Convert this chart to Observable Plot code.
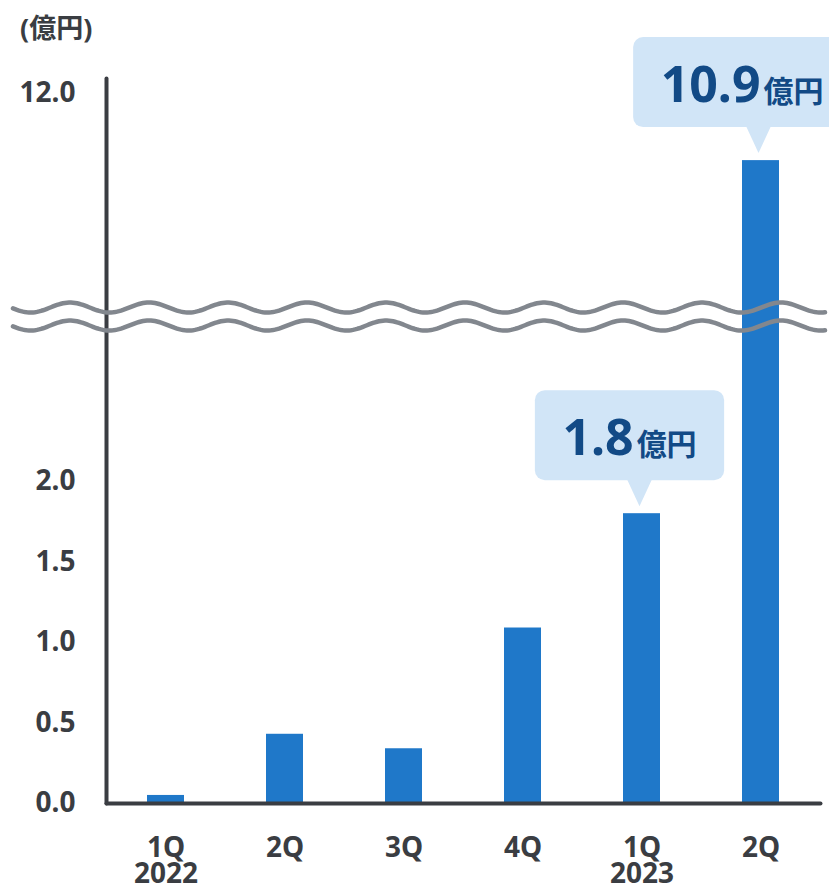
<!DOCTYPE html>
<html><head><meta charset="utf-8">
<script src="https://cdn.jsdelivr.net/npm/d3@7"></script>
<script src="https://cdn.jsdelivr.net/npm/@observablehq/plot@0.6"></script>
<style>
body{margin:0;background:#fff;overflow:hidden}
#chart{position:relative;width:829px;height:887px}
#chart svg{overflow:hidden}
</style>
</head><body><div id="chart"></div>
<script>
// ---- data ----
const categories = ["1Q 2022","2Q 2022","3Q 2022","4Q 2022","1Q 2023","2Q 2023"];
const tickLabels = ["1Q\n2022","2Q","3Q","4Q","1Q\n2023","2Q"];
const values = [0.05, 0.43, 0.34, 1.09, 1.8, 10.9];
const yTicks = [0, 0.5, 1.0, 1.5, 2.0, 12.0];
const yBreak = [3.0, 8.4];          // axis is broken between these values
const calloutCategories = ["1Q 2023","2Q 2023"];
const calloutNumbers = ["1.8","10.9"];
const calloutUnit = "億円";
const axisUnit = "(億円)";

// ---- broken-axis transform (upper segment compressed) ----
const UPPER_RATIO = 0.38, GAP = 0.043;
const brk = v => v <= yBreak[0] ? v
  : v >= yBreak[1] ? yBreak[0] + GAP + (v - yBreak[1]) * UPPER_RATIO
  : yBreak[0] + (v - yBreak[0]) / (yBreak[1] - yBreak[0]) * GAP;

// ---- chart ----
const W = 829, H = 887;
const FONT = '"Noto Sans","Noto Sans CJK JP",sans-serif';
const INK = "#3a3d42";
const data = categories.map((c, i) => ({cat: c, value: values[i]}));
const fmt = d3.format(".1f");
const tickPos = yTicks.map(brk);

const plot = Plot.plot({
  width: W, height: H,
  marginTop: 78, marginBottom: 84, marginLeft: 106, marginRight: 9,
  style: {fontFamily: FONT, color: INK, background: "white", overflow: "hidden"},
  x: {domain: categories, paddingInner: 0.69, paddingOuter: 0.345, label: null},
  y: {transform: brk, domain: [0, 4.503], label: null},
  marks: [
    Plot.barY(data, {x: "cat", y: "value", fill: "#1f78c9"}),
    Plot.frame({anchor: "left", stroke: INK, strokeWidth: 4, strokeLinecap: "round"}),
    Plot.frame({anchor: "bottom", stroke: INK, strokeWidth: 4, strokeLinecap: "round"}),
    Plot.axisY({ticks: tickPos, tickFormat: d => fmt(yTicks[tickPos.indexOf(d)] ?? d),
                tickSize: 0, tickPadding: 31, fontSize: 28, fontWeight: "bold", label: null}),
    Plot.axisX({tickSize: 0, tickPadding: 35, tickFormat: d => tickLabels[categories.indexOf(d)],
                fontSize: 28, fontWeight: "bold", lineHeight: 0.93, label: null})
  ]
});
document.getElementById("chart").appendChild(plot);

const xs = plot.scale("x"), ys = plot.scale("y");
const svg = d3.select(plot);

// axis unit label
svg.append("text").attr("x", 20).attr("y", 38).attr("text-anchor", "start")
  .attr("font-family", FONT).attr("font-size", 27).attr("font-weight", "bold")
  .attr("fill", INK).text(axisUnit);

// broken-axis waves
const yMid = (ys.apply(brk(yBreak[0])) + ys.apply(brk(yBreak[0]) + GAP)) / 2;
const lambda = 79, amp = 5;
[-9, 9].forEach(off => {
  const pts = d3.range(13, 827, 2).map(x => [x, yMid + off - amp * Math.cos(2 * Math.PI * (x - 70) / lambda)]);
  svg.append("path").attr("d", d3.line()(pts)).attr("fill", "none")
    .attr("stroke", "#82878e").attr("stroke-width", 4.5).attr("stroke-linecap", "round");
});

// callouts (positioned from the rendered bars)
const barRects = svg.selectAll('g[aria-label="bar"] rect').nodes();
const BOX = "#d1e5f7", TXT = "#124a86";
calloutCategories.forEach((c, k) => {
  const r = barRects[categories.indexOf(c)];
  const cx = xs.apply(c) + xs.bandwidth / 2 - 2;
  const tipY = +r.getAttribute("y") - 7;
  const baseY = tipY - 26;
  const top = baseY - 90;
  const g = svg.append("g");
  const rect = g.append("rect");
  g.append("path").attr("d", `M${cx - 12.5},${baseY - 1}L${cx},${tipY}L${cx + 12.5},${baseY - 1}Z`).attr("fill", BOX);
  const t = g.append("text").attr("y", top + 65).attr("text-anchor", "middle")
    .attr("font-family", FONT).attr("font-weight", "bold").attr("fill", TXT);
  t.append("tspan").attr("font-size", 50).text(calloutNumbers[k]);
  t.append("tspan").attr("font-size", 30).attr("dx", 3).text(calloutUnit);
  const tw = t.node().getComputedTextLength();
  const bw = tw + 58;
  const center = Math.min(cx - 10, W + 22 - bw / 2);
  t.attr("x", center);
  rect.attr("x", center - bw / 2).attr("y", top).attr("width", bw).attr("height", 90)
    .attr("rx", 10).attr("fill", BOX);
});
</script>
</body></html>
